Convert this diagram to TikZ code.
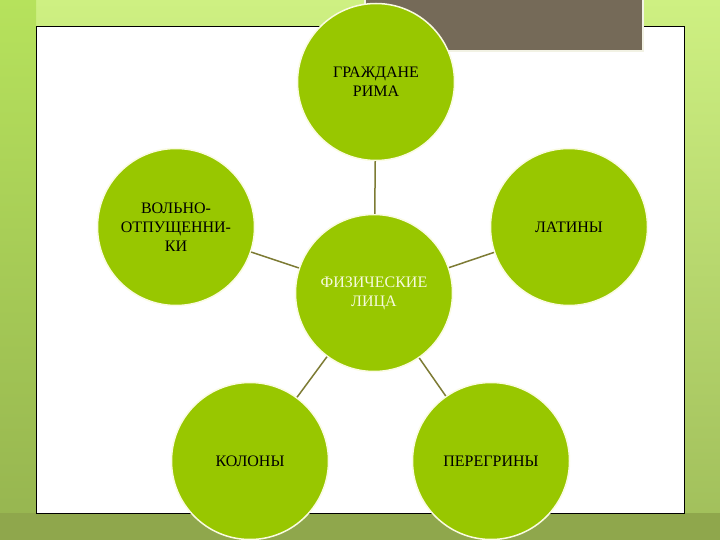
\documentclass[tikz,border=0pt]{standalone}
\usepackage{fontspec}
\setmainfont{Liberation Serif}
\definecolor{circfill}{HTML}{98C700}
\definecolor{circline}{HTML}{FAFBE2}
\definecolor{linkcol}{HTML}{7D7B34}
\definecolor{darkbox}{HTML}{756A58}
\definecolor{darkboxline}{HTML}{F2F2E4}
\definecolor{bgtop}{HTML}{CEF082}
\definecolor{bgbot}{HTML}{A0BE5A}
\definecolor{striptop}{HTML}{B6E25C}
\definecolor{stripbot}{HTML}{96B450}
\definecolor{band}{HTML}{8FA74C}
\definecolor{midtext}{HTML}{F6FADC}
\begin{document}
\begin{tikzpicture}[x=1pt,y=-1pt,
  bubble/.style={circle, fill=circfill, draw=circline, line width=1.5pt,
    minimum size=157pt, inner sep=0pt, align=center,
    font=\fontsize{16}{19}\selectfont, text=black},
  link/.style={draw=linkcol, line width=1.5pt}]
\useasboundingbox (0,0) rectangle (720,540);
% background
\shade[top color=bgtop, bottom color=bgbot] (0,0) rectangle (720,540);
\shade[top color=striptop, bottom color=stripbot] (0,0) rectangle (36,540);
\fill[band] (0,513) rectangle (720,540);
% white panel
\draw[fill=white, draw=black, line width=1pt] (36,27) rectangle (684,513);
% dark box
\draw[fill=darkbox, draw=darkboxline, line width=2pt] (365,-5) rectangle (643,51);
% nodes
\node[bubble] (top) at (376,82) {ГРАЖДАНЕ\\РИМА};
\node[bubble] (left) at (176,227) {ВОЛЬНО-\\ОТПУЩЕННИ-\\КИ};
\node[bubble] (right) at (569,227) {ЛАТИНЫ};
\node[bubble, text=midtext] (mid) at (374,293) {ФИЗИЧЕСКИЕ\\ЛИЦА};
\node[bubble] (bl) at (250,461) {КОЛОНЫ};
\node[bubble] (br) at (491,461) {ПЕРЕГРИНЫ};
% connectors
\path[link] (top) -- (mid);
\path[link] (left) -- (mid);
\path[link] (right) -- (mid);
\path[link] (bl) -- (mid);
\path[link] (br) -- (mid);
\end{tikzpicture}
\end{document}
